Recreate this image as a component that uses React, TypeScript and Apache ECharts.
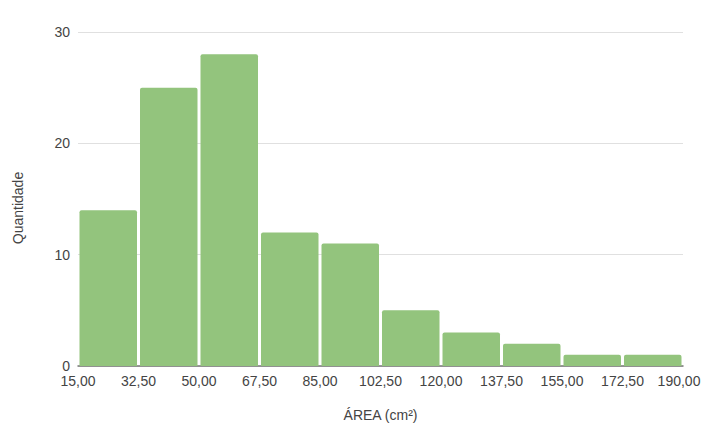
import React, { useEffect, useRef } from "react";
import * as echarts from "echarts";

const binStart = 15;
const binWidth = 17.5;
const counts = [14, 25, 28, 12, 11, 5, 3, 2, 1, 1];
const yTicks = [0, 10, 20, 30];

const FONT = "'Liberation Sans', Arial, sans-serif";
const fmt = (v: number) => (v + binStart).toFixed(2).replace(".", ",");

export default function App() {
  const ref = useRef<HTMLDivElement>(null);
  useEffect(() => {
    const chart = echarts.init(ref.current!, undefined, { renderer: "svg" });
    const data = counts.map((c, i) => [i * binWidth, (i + 1) * binWidth, c]);
    const xMax = counts.length * binWidth;
    chart.setOption({
      animation: false,
      grid: { left: 78, right: 19, top: 32, bottom: 67, containLabel: false, outerBoundsMode: "none" },
      graphic: [
        {
          type: "text",
          x: 18,
          y: 208,
          rotation: Math.PI / 2,
          style: {
            text: "Quantidade",
            fill: "#444",
            font: `14px ${FONT}`,
            align: "center",
            verticalAlign: "middle",
          },
        },
      ],
      xAxis: {
        type: "value",
        min: 0,
        max: xMax,
        interval: binWidth,
        name: "ÁREA (cm²)",
        nameLocation: "middle",
        nameGap: 42,
        nameTextStyle: { color: "#444", fontSize: 14, fontFamily: FONT },
        axisLine: { show: true, lineStyle: { color: "#777", width: 1.5 } },
        axisTick: { show: false },
        splitLine: { show: false },
        axisLabel: {
          color: "#444",
          fontSize: 14,
          fontFamily: FONT,
          margin: 8,
          formatter: (v: number) => (Math.abs(v - xMax) < 1e-6 ? `{last|${fmt(v)}}` : fmt(v)),
          rich: {
            last: { color: "#444", fontSize: 14, fontFamily: FONT, padding: [0, 8, 0, 0] },
          },
          showMaxLabel: true,
          showMinLabel: true,
        },
      },
      yAxis: {
        type: "value",
        min: yTicks[0],
        max: yTicks[yTicks.length - 1],
        interval: 10,
        axisLine: { show: false },
        axisTick: { show: false },
        splitLine: { lineStyle: { color: "#e0e0e0", width: 1 } },
        axisLabel: { color: "#444", fontSize: 14, fontFamily: FONT, margin: 8 },
      },
      series: [
        {
          type: "custom",
          data,
          encode: { x: [0, 1], y: 2 },
          renderItem: (params: any, api: any) => {
            const p0 = api.coord([api.value(0), 0]);
            const p1 = api.coord([api.value(1), api.value(2)]);
            const gap = 1.5;
            return {
              type: "rect",
              shape: {
                x: p0[0] + gap,
                y: p1[1],
                width: p1[0] - p0[0] - 2 * gap,
                height: p0[1] - p1[1],
                r: [2, 2, 0, 0],
              },
              style: { fill: "#93c47d" },
            };
          },
          z: 1,
        },
      ],
    });
    return () => chart.dispose();
  }, []);
  return <div ref={ref} style={{ width: 702, height: 433, position: "absolute", left: 0, top: 0 }} />;
}
